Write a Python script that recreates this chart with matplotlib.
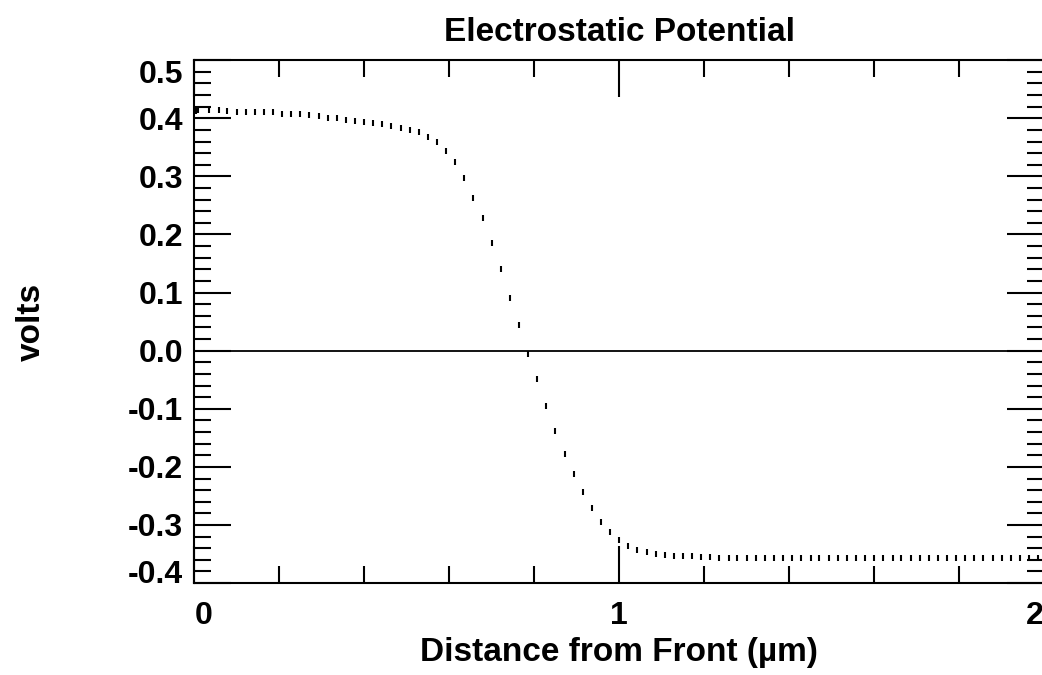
import numpy as np
import matplotlib
matplotlib.use('Agg')
import matplotlib.pyplot as plt
from matplotlib.ticker import MultipleLocator, FixedLocator

plt.rcParams['font.family'] = ['Liberation Sans', 'DejaVu Sans']
plt.rcParams['font.weight'] = 'bold'

# 位置 (µm)
x_um = [0.004, 0.009,
        0.035, 0.057, 0.078, 0.100, 0.121, 0.143, 0.164, 0.185, 0.207, 0.228,
        0.250, 0.271, 0.293, 0.314, 0.336, 0.357, 0.378, 0.400, 0.421, 0.443,
        0.464, 0.486, 0.507, 0.529, 0.550, 0.572, 0.593, 0.614, 0.636, 0.657,
        0.679, 0.700, 0.722, 0.743, 0.765, 0.786, 0.807, 0.829, 0.850, 0.872,
        0.893, 0.915, 0.936, 0.958, 0.979, 1.000, 1.022, 1.043, 1.065, 1.086,
        1.108, 1.129, 1.150, 1.172, 1.193, 1.215, 1.236, 1.258, 1.279, 1.301,
        1.322, 1.344, 1.365, 1.386, 1.408, 1.429, 1.451, 1.472, 1.494, 1.515,
        1.537, 1.558, 1.579, 1.601, 1.622, 1.644, 1.665, 1.687, 1.708, 1.730,
        1.751, 1.773, 1.794, 1.815, 1.837, 1.858, 1.880, 1.901, 1.923, 1.944,
        1.966, 1.987]

# 电势 (V)
volts = [0.413, 0.414,
         0.414, 0.414, 0.413, 0.411, 0.411, 0.411, 0.411, 0.410, 0.408, 0.408,
         0.407, 0.405, 0.404, 0.401, 0.400, 0.397, 0.396, 0.393, 0.392, 0.390,
         0.386, 0.383, 0.380, 0.376, 0.368, 0.359, 0.344, 0.324, 0.298, 0.263,
         0.228, 0.186, 0.140, 0.090, 0.044, -0.005, -0.049, -0.096, -0.138, -0.178,
         -0.212, -0.244, -0.270, -0.294, -0.312, -0.325, -0.336, -0.343, -0.347, -0.350,
         -0.351, -0.353, -0.354, -0.354, -0.355, -0.355, -0.356, -0.356, -0.356, -0.356,
         -0.356, -0.356, -0.356, -0.356, -0.356, -0.356, -0.356, -0.356, -0.356, -0.356,
         -0.356, -0.356, -0.356, -0.356, -0.356, -0.356, -0.356, -0.356, -0.356, -0.356,
         -0.356, -0.356, -0.356, -0.356, -0.356, -0.356, -0.356, -0.356, -0.356, -0.356,
         -0.356, -0.356]

x_ticks = [0, 1, 2]
y_ticks = [-0.4, -0.3, -0.2, -0.1, 0.0, 0.1, 0.2, 0.3, 0.4, 0.5]

fig = plt.figure(figsize=(10.42, 6.75), dpi=100)
ax = fig.add_axes([0.18647, 0.13615, 0.81516, 0.77467])

ax.axhline(0, color='black', linewidth=1.3)
ax.plot(x_um, volts, linestyle='none', marker='|', markersize=5.0,
        markeredgewidth=1.5, color='black', clip_on=True)

ax.set_xlim(0, 2)
ax.set_ylim(-0.4, 0.5)

ax.xaxis.set_major_locator(FixedLocator(x_ticks))
ax.xaxis.set_minor_locator(MultipleLocator(0.2))
ax.yaxis.set_major_locator(FixedLocator(y_ticks))
ax.yaxis.set_minor_locator(MultipleLocator(0.02))
ax.set_xticklabels([str(v) for v in x_ticks])
ax.set_yticklabels(['%.1f' % v for v in y_ticks])

ax.tick_params(which='both', direction='in', top=True, right=True,
               width=1.5, color='black', labelsize=23)
ax.tick_params(which='major', length=26.6)
ax.tick_params(which='minor', length=12.2)
ax.tick_params(axis='x', pad=13)
ax.tick_params(axis='y', pad=8)

for sp in ax.spines.values():
    sp.set_linewidth(1.5)

xl = ax.get_xticklabels()
xl[0].set_horizontalalignment('left')
xl[-1].set_horizontalalignment('right')
yl = ax.get_yticklabels()
yl[0].set_verticalalignment('baseline')
yl[-1].set_verticalalignment('top')

ax.set_title('Electrostatic Potential', fontsize=24, fontweight='bold', pad=13.5)
ax.set_xlabel('Distance from Front (µm)', fontsize=24, fontweight='bold')
ax.set_ylabel('volts', fontsize=24, fontweight='bold')
ax.xaxis.set_label_coords(0.5, -0.104)
ax.yaxis.set_label_coords(-0.173, 0.5)

fig.savefig('out.png', dpi=100)
